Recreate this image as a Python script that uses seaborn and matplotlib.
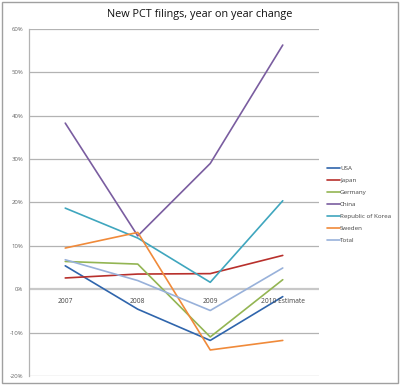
import pandas as pd
import seaborn as sns
import matplotlib
matplotlib.use("Agg")
import matplotlib.pyplot as plt
import matplotlib.transforms as mtransforms
from matplotlib.patches import Rectangle

# Data (year on year change, fraction)
years = ["2007", "2008", "2009", "2010 Estimate"]
usa = [0.054, -0.046, -0.118, -0.017]
japan = [0.026, 0.035, 0.036, 0.078]
germany = [0.064, 0.058, -0.110, 0.022]
china = [0.383, 0.123, 0.290, 0.563]
korea = [0.187, 0.118, 0.016, 0.204]
sweden = [0.095, 0.131, -0.140, -0.118]
total = [0.068, 0.020, -0.049, 0.049]

series = {
    "USA": usa,
    "Japan": japan,
    "Germany": germany,
    "China": china,
    "Republic of Korea": korea,
    "Sweden": sweden,
    "Total": total,
}
colors = ["#2F65AC", "#B8302C", "#93B553", "#7A5DA0", "#3FA6BE", "#F08A3A", "#98B1DA"]

rows = []
for name, vals in series.items():
    for i, v in enumerate(vals):
        rows.append({"country": name, "x": i, "change": v})
df = pd.DataFrame(rows)

sns.set_style("white")
plt.rcParams["font.family"] = ["Open Sans", "DejaVu Sans"]

fig = plt.figure(figsize=(4.0, 3.85), dpi=100)
ax = fig.add_axes([0.0725, 0.0234, 0.725, 0.9013])

# gridlines
for yv in [-0.2, -0.1, 0.1, 0.2, 0.3, 0.4, 0.5, 0.6]:
    ax.axhline(yv, color="#B3B3B3", lw=0.9, zorder=0)
ax.axhline(0, color="#C8C8C8", lw=1.6, zorder=0)

sns.lineplot(data=df, x="x", y="change", hue="country", palette=colors,
             hue_order=list(series.keys()), lw=1.2, ax=ax, legend=True)

ax.set_xlim(-0.5, 3.5)
ax.set_ylim(-0.2, 0.6)
ax.set_yticks([-0.2, -0.1, 0, 0.1, 0.2, 0.3, 0.4, 0.5, 0.6])
ax.set_yticklabels([f"{int(round(v * 100))}%" for v in ax.get_yticks()],
                   fontsize=4.3, color="#666666")
ax.set_xticks([])
ax.set_xlabel("")
ax.set_ylabel("")
ax.tick_params(axis="y", length=2, color="#B3B3B3", pad=2)
for s in ["top", "right", "bottom"]:
    ax.spines[s].set_visible(False)
ax.spines["left"].set_color("#B3B3B3")
ax.spines["left"].set_linewidth(0.9)

# category labels sit just under the zero line
trans = mtransforms.offset_copy(ax.transData, fig=fig, y=-9, units="points")
for i, lab in enumerate(years):
    ax.text(i, 0, lab, transform=trans, ha="center", va="center",
            fontsize=4.8, color="#444444")

fig.text(0.5, 0.962, "New PCT filings, year on year change", fontsize=7.8,
         ha="center", va="center", color="#111111")

leg = ax.legend(loc="upper left", bbox_to_anchor=(1.02, 0.613), frameon=False,
                fontsize=4.5, handlelength=2.0, handletextpad=0.05,
                labelspacing=1.05, borderaxespad=0)
for t in leg.get_texts():
    t.set_color("#444444")

fig.patches.append(Rectangle((0.004, 0.004), 0.992, 0.992, transform=fig.transFigure,
                             fill=False, edgecolor="#A0A0A0", lw=1))

fig.savefig("out.png", dpi=100)
